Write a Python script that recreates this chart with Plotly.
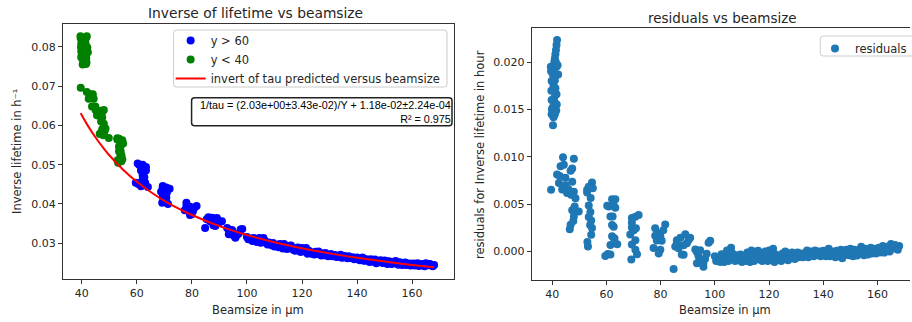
import plotly.graph_objects as go

# ---- fit parameters shown in the annotation ----
A_FIT = 2.03
B_FIT = 0.0118
R2 = 0.975

# ---- green group (y < 40) ----
beam_green = [41.8, 41.6, 41.4, 41.2, 41.0, 40.8, 40.6, 40.4, 40.2, 40.5, 41.3, 41.5, 42.0, 42.2, 41.0, 40.5, 40.3,
              41.2, 41.6, 40.7, 41.0, 41.7, 40.2, 41.5, 40.5, 41.0, 40.3, 39.5, 39.6, 39.8, 39.7, 39.8, 39.9, 39.8,
              44.0, 48.0, 43.1, 47.4, 41.8, 46.8, 44.9, 47.4, 39.6, 42.5, 43.7, 45.5, 48.0, 48.6, 47.4, 49.8, 48.0,
              46.8, 46.5, 54.7, 53.5, 52.9, 52.9, 53.5, 54.1, 53.5, 54.4, 54.7, 54.4, 53.2, 42.8, 44.3, 45.0, 46.0,
              47.0, 48.3, 47.8, 54.2, 55.0, 53.0, 54.0]
inv_green = [0.0827, 0.0824, 0.0821, 0.0819, 0.0817, 0.0816, 0.0814, 0.0813, 0.0811, 0.0804, 0.0810, 0.0802, 0.0798,
             0.0786, 0.0794, 0.0795, 0.0793, 0.0783, 0.0772, 0.0779, 0.0770, 0.0760, 0.0775, 0.0756, 0.0761, 0.0758,
             0.0755, 0.0827, 0.0821, 0.0808, 0.0799, 0.0788, 0.0777, 0.0773,
             0.0679, 0.0639, 0.0679, 0.0634, 0.0685, 0.0637, 0.0648, 0.0620, 0.0696, 0.0668, 0.0648, 0.0626, 0.0604,
             0.0592, 0.0590, 0.0568, 0.0578, 0.0580, 0.0578, 0.0562, 0.0566, 0.0567, 0.0564, 0.0546, 0.0535, 0.0534,
             0.0524, 0.0514, 0.0509, 0.0505, 0.0672, 0.0668, 0.0639, 0.0625, 0.0610, 0.0586, 0.0575, 0.0549, 0.0554,
             0.0511, 0.0522]

# ---- blue group (y > 60) ----
beam_blue = [62.1, 60.9, 62.6, 61.5, 62.7, 62.1, 61.5, 59.6, 60.5, 63.0, 61.5, 63.3, 63.3, 62.3, 62.1, 62.7, 60.3, 64.0,
             69.4, 71.9, 70.7, 69.4, 70.1, 68.8, 70.7, 69.4, 70.7, 71.3, 69.2, 70.9, 69.4,
             78.0, 81.7, 79.3, 78.6, 80.4, 77.4, 79.9, 79.3, 81.0, 78.0, 79.9,
             84.8, 86.0, 89.1, 87.3, 90.3, 85.4, 86.6, 87.8, 89.7, 88.5, 90.9, 88.5, 86.0,
             92.8, 94.0, 95.2, 95.8, 97.0, 97.7, 98.3, 94.6, 96.4, 93.4, 93.4, 95.8,
             100, 101, 102, 103, 104, 105, 106, 107, 108, 109, 110, 111, 112, 113, 114, 115, 116, 117, 118, 119,
             120, 121, 122, 123, 124, 125, 126, 127, 128, 129, 130, 131, 132, 133, 134, 135, 136, 137, 138, 139,
             140, 141, 142, 143, 144, 145, 146, 147, 148, 149, 150, 151, 152, 153, 154, 155, 156, 157, 158, 159,
             160, 161, 162, 163, 164, 165, 166, 167, 168,
             100.5, 101.5, 102.5, 103.5, 104.5, 105.5, 106.5, 107.5, 108.5, 109.5, 110.5, 111.5, 112.5, 113.5,
             114.5, 115.5, 116.5, 117.5, 118.5, 119.5, 120.5, 121.5, 122.5, 123.5, 124.5, 125.5, 126.5, 127.5,
             128.5, 129.5, 130.5, 131.5, 132.5, 133.5, 134.5, 135.5, 136.5, 137.5, 138.5, 139.5, 140.5, 141.5,
             142.5, 143.5, 144.5, 145.5, 146.5, 147.5, 148.5, 149.5, 150.5, 151.5, 152.5, 153.5, 154.5, 155.5,
             156.5, 157.5, 158.5, 159.5, 160.5, 161.5, 162.5, 163.5, 164.5, 165.5, 166.5, 167.5]
inv_blue = [0.0500, 0.0499, 0.0492, 0.0485, 0.0468, 0.0461, 0.0455, 0.0454, 0.0451, 0.0454, 0.0445, 0.0494, 0.0485,
            0.0481, 0.0473, 0.0456, 0.0503, 0.0443,
            0.0446, 0.0439, 0.0442, 0.0436, 0.0430, 0.0431, 0.0417, 0.0418, 0.0407, 0.0400, 0.0403, 0.0429, 0.0441,
            0.0403, 0.0395, 0.0393, 0.0388, 0.0382, 0.0384, 0.0374, 0.0372, 0.0391, 0.0395, 0.0388,
            0.0339, 0.0366, 0.0364, 0.0365, 0.0355, 0.0361, 0.0356, 0.0346, 0.0353, 0.0354, 0.0356, 0.0344, 0.0363,
            0.0339, 0.0329, 0.0320, 0.0314, 0.0325, 0.0335, 0.0336, 0.0334, 0.0321, 0.0323, 0.0335, 0.0318,
            0.0316, 0.0310, 0.0306, 0.03071, 0.03072, 0.03013, 0.03135, 0.03007, 0.0302, 0.02952, 0.02916, 0.02959,
            0.02983, 0.02867, 0.02921, 0.02865, 0.0294, 0.02825, 0.0287, 0.02846,
            0.02882, 0.02848, 0.02734, 0.0277, 0.02767, 0.02784, 0.02791, 0.02688, 0.02696, 0.02704, 0.02702,
            0.0267, 0.02698, 0.02656, 0.02705, 0.02644, 0.02643, 0.02672, 0.02631, 0.0259,
            0.0264, 0.0257, 0.0264, 0.0256, 0.0257, 0.0259, 0.0253, 0.02491, 0.02542, 0.02512, 0.02563, 0.02474,
            0.02526, 0.02487, 0.02548, 0.0245, 0.02471, 0.02483, 0.02445, 0.02487,
            0.02449, 0.02431, 0.02493, 0.02445, 0.02438, 0.0249, 0.02463, 0.02436, 0.02448,
            0.0310, 0.0312, 0.03131, 0.03031, 0.03133, 0.03064, 0.03066, 0.02968, 0.02981, 0.03004, 0.02937,
            0.02901, 0.02925, 0.02979, 0.02853, 0.02938, 0.02863, 0.02808, 0.02893, 0.02779, 0.02795, 0.02881,
            0.02807, 0.02734, 0.02711, 0.02728, 0.02745, 0.02742, 0.0275, 0.02668, 0.02726, 0.02694, 0.02652,
            0.02681, 0.02629, 0.02678, 0.02617, 0.02626, 0.02646, 0.02615, 0.02595, 0.02615, 0.02555, 0.02595,
            0.02525, 0.02545, 0.02586, 0.02536, 0.02567, 0.02498, 0.02519, 0.0254, 0.02471, 0.02513, 0.02484,
            0.02516, 0.02447, 0.02509, 0.02461, 0.02433, 0.02485, 0.02467, 0.02419, 0.02472, 0.02414, 0.02437,
            0.02469, 0.02412]

# ---- predicted curve (red line) ----
red_x = [39.6, 40, 42, 45, 48, 50, 55, 60, 65, 70, 75, 80, 90, 100, 110, 120, 130, 140, 150, 160, 168]
red_y = [0.0631, 0.06255, 0.06013, 0.05691, 0.05409, 0.0524, 0.04871, 0.04563, 0.04303, 0.0408, 0.03887, 0.03718,
         0.03436, 0.0321, 0.03025, 0.02872, 0.02742, 0.0263, 0.02533, 0.02449, 0.02388]

# residuals of all points with respect to the fitted model
beam_all = beam_green + beam_blue
inv_all = inv_green + inv_blue
residuals = [v - (A_FIT / b + B_FIT) for b, v in zip(beam_all, inv_all)]

W, H = 912, 322
FONT = "DejaVu Sans"
TXT = "#262626"
MS = 8

def px(xp):
    return xp / W

def py(yp):
    return 1 - yp / H

def round_box(x0, y0, x1, y1, r=3):
    """rounded rectangle path in paper coordinates, from pixel corners"""
    rx, ry = r / W, r / H
    X0, X1 = px(x0), px(x1)
    Y0, Y1 = py(y0), py(y1)  # Y0 top, Y1 bottom
    return (f"M {X0 + rx},{Y0} L {X1 - rx},{Y0} Q {X1},{Y0} {X1},{Y0 - ry} "
            f"L {X1},{Y1 + ry} Q {X1},{Y1} {X1 - rx},{Y1} "
            f"L {X0 + rx},{Y1} Q {X0},{Y1} {X0},{Y1 + ry} "
            f"L {X0},{Y0 - ry} Q {X0},{Y0} {X0 + rx},{Y0} Z")

fig = go.Figure()
fig.add_trace(go.Scatter(x=beam_blue, y=inv_blue, mode="markers", name="y > 60",
                         marker=dict(color="blue", size=MS, line=dict(width=0)), xaxis="x", yaxis="y", legend="legend"))
fig.add_trace(go.Scatter(x=beam_green, y=inv_green, mode="markers", name="y < 40",
                         marker=dict(color="green", size=MS, line=dict(width=0)), xaxis="x", yaxis="y", legend="legend"))
fig.add_trace(go.Scatter(x=red_x, y=red_y, mode="lines", name="invert of tau predicted versus beamsize",
                         line=dict(color="red", width=2, shape="spline"), xaxis="x", yaxis="y", legend="legend"))
fig.add_trace(go.Scatter(x=beam_all, y=residuals, mode="markers", name="residuals",
                         marker=dict(color="#1f77b4", size=MS, line=dict(width=0)), xaxis="x2", yaxis="y2",
                         legend="legend2"))

axis_common = dict(showgrid=False, zeroline=False, showline=True, linecolor="#333", linewidth=1,
                   ticks="outside", ticklen=4, tickwidth=1, tickcolor="#333",
                   tickfont=dict(family=FONT, size=11, color=TXT))

fig.update_layout(
    width=W, height=H, margin=dict(l=0, r=0, t=0, b=0),
    paper_bgcolor="white", plot_bgcolor="white",
    font=dict(family=FONT, color=TXT),
    xaxis=dict(domain=[px(63), px(455)], range=[33.11, 175.23], tickvals=[40, 60, 80, 100, 120, 140, 160],
               mirror=True, anchor="y", **axis_common),
    yaxis=dict(domain=[py(279), py(24)], range=[0.0209, 0.0858], tickvals=[0.03, 0.04, 0.05, 0.06, 0.07, 0.08],
               tickformat=".2f", mirror=True, anchor="x", **axis_common),
    xaxis2=dict(domain=[px(533), 1.0], range=[32.5, 172.0], tickvals=[40, 60, 80, 100, 120, 140, 160],
                mirror=True, anchor="y2", **axis_common),
    yaxis2=dict(domain=[py(280), py(28)], range=[-0.003, 0.0236], tickvals=[0.0, 0.005, 0.01, 0.015, 0.02],
                tickformat=".3f", mirror=False, anchor="x2", **axis_common),
    legend=dict(x=px(171), y=py(26), xanchor="left", yanchor="top", bgcolor="rgba(0,0,0,0)",
                borderwidth=0, font=dict(family=FONT, size=11.5, color=TXT),
                tracegroupgap=0, itemwidth=30),
    legend2=dict(x=px(817), y=py(34), xanchor="left", yanchor="top", bgcolor="rgba(0,0,0,0)",
                 borderwidth=0, font=dict(family=FONT, size=11.5, color=TXT), itemwidth=30),
    showlegend=True,
)

# legend frames and the fit-result box (matplotlib-style rounded boxes)
fig.add_shape(type="path", path=round_box(174, 30, 448, 87), xref="paper", yref="paper",
              line=dict(color="#cccccc", width=1), fillcolor="rgba(255,255,255,0.8)", layer="above")
fig.add_shape(type="path", path=round_box(822, 36, 918, 56), xref="paper", yref="paper",
              line=dict(color="#cccccc", width=1), fillcolor="rgba(255,255,255,0.8)", layer="above")
fig.add_shape(type="path", path=round_box(192, 97.7, 453, 125.7), xref="paper", yref="paper",
              line=dict(color="#222222", width=1.5), fillcolor="white", layer="above")

ann = [
    dict(text="Inverse of lifetime vs beamsize", x=px(256), y=py(13), size=13.8),
    dict(text="residuals vs beamsize", x=px(724), y=py(17.5), size=13.5),
    dict(text="Beamsize in µm", x=px(259), y=py(310), size=11.5),
    dict(text="Beamsize in µm", x=px(727), y=py(310), size=11.5),
]
for a in ann:
    fig.add_annotation(text=a["text"], x=a["x"], y=a["y"], xref="paper", yref="paper", showarrow=False,
                       xanchor="center", yanchor="middle", font=dict(family=FONT, size=a["size"], color=TXT))

fig.add_annotation(text="Inverse lifetime in h⁻¹", x=px(17), y=py(151), xref="paper", yref="paper",
                   showarrow=False, textangle=-90, xanchor="center", yanchor="middle",
                   font=dict(family=FONT, size=11.5, color=TXT))
fig.add_annotation(text="residuals for Inverse lifetime in hour", x=px(481), y=py(154), xref="paper", yref="paper",
                   showarrow=False, textangle=-90, xanchor="center", yanchor="middle",
                   font=dict(family=FONT, size=11.5, color=TXT))

fig.add_annotation(
    text=f"1/tau = ({A_FIT:.2e}±3.43e-02)/Y + {B_FIT:.2e}±2.24e-04<br>R² = {R2}",
    x=px(451.5), y=py(112), xref="paper", yref="paper", showarrow=False, xanchor="right", yanchor="middle",
    align="right", borderwidth=0, borderpad=0,
    font=dict(family="Liberation Sans", size=10.8, color="black"))

fig.write_html("out.html")
